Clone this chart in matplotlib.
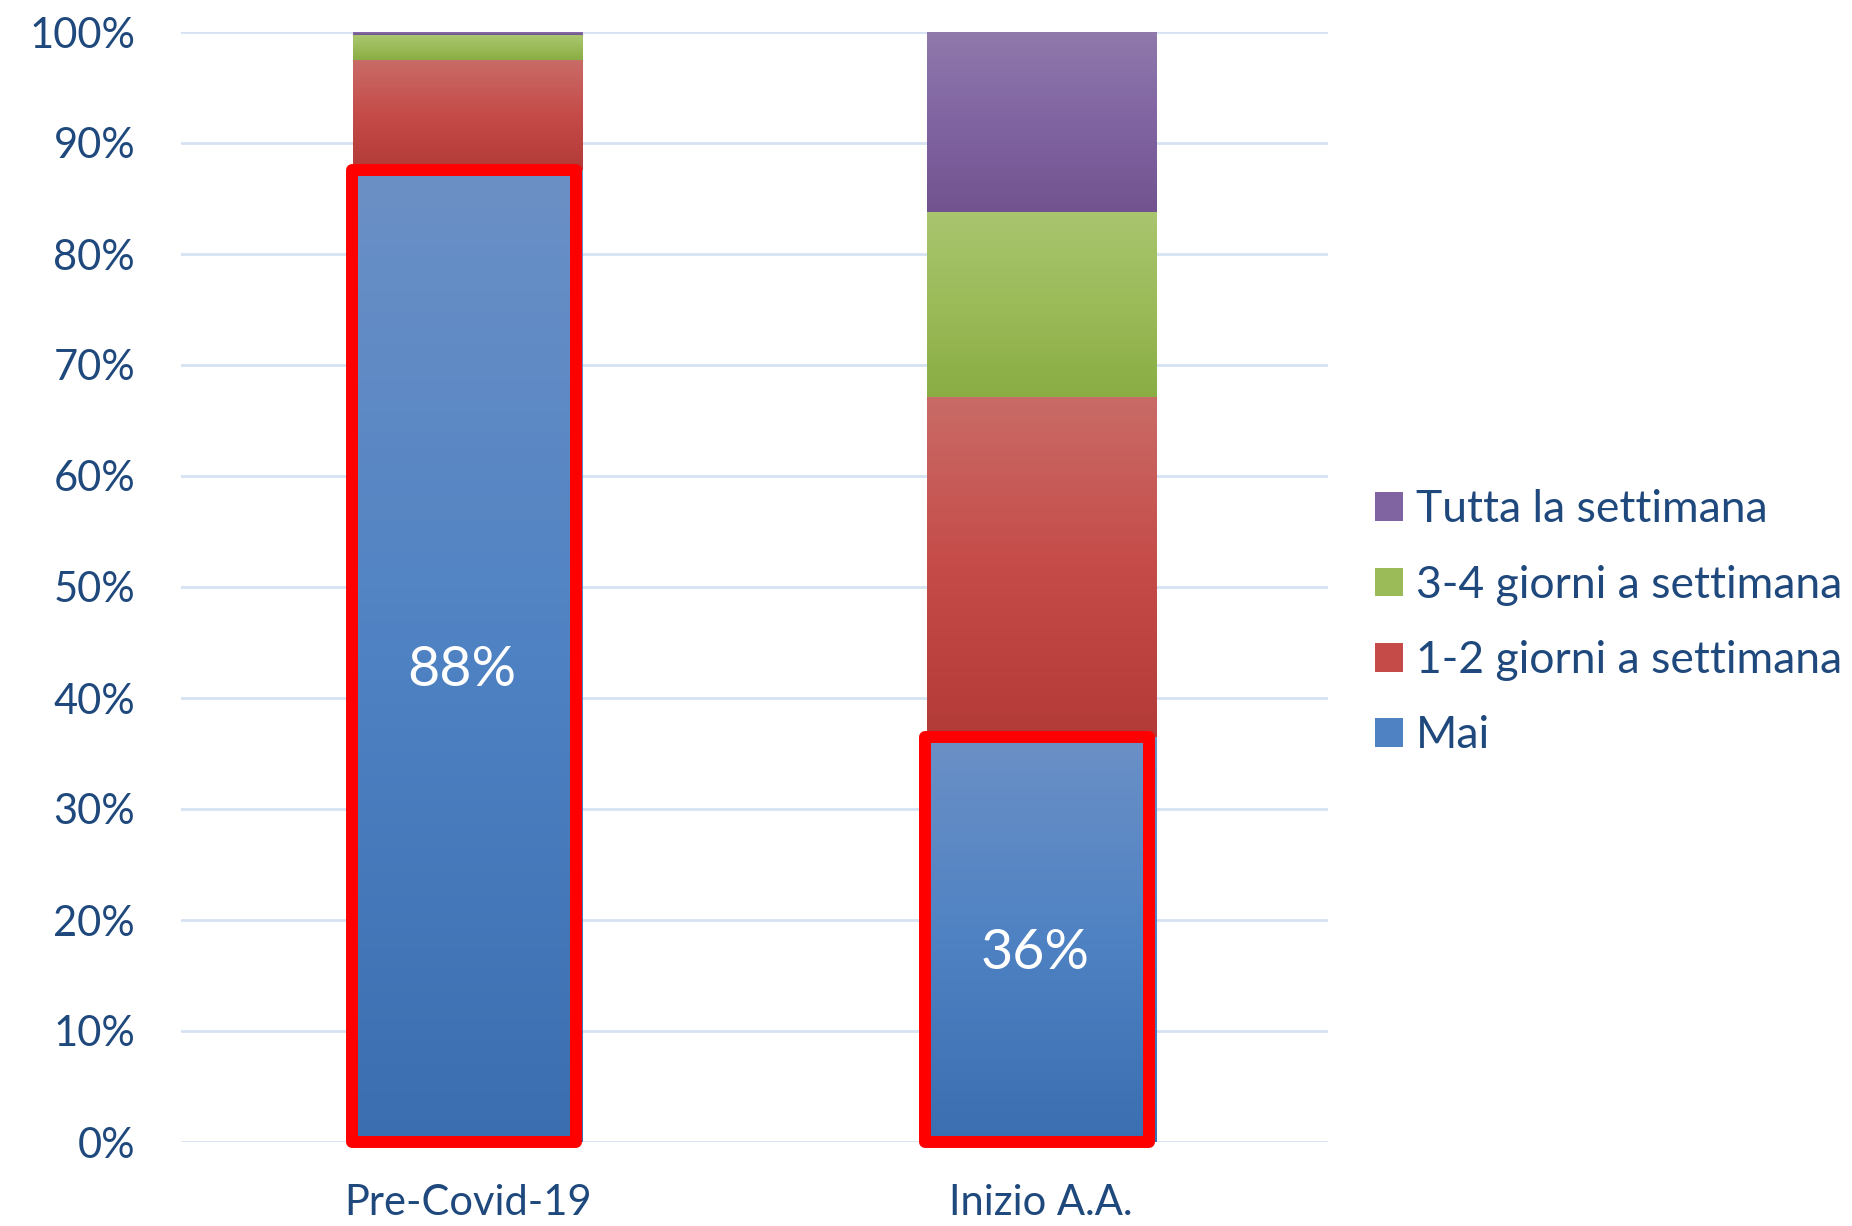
import numpy as np
import matplotlib
matplotlib.use("Agg")
import matplotlib.pyplot as plt
from matplotlib.colors import LinearSegmentedColormap
from matplotlib.patches import Patch
from matplotlib.ticker import PercentFormatter

plt.rcParams['font.family'] = ['Lato', 'DejaVu Sans']

categories = ['Pre-Covid-19', 'Inizio A.A.']
series = ['Mai', '1-2 giorni a settimana', '3-4 giorni a settimana', 'Tutta la settimana']
mai = [0.876, 0.365]
uno_due = [0.099, 0.306]
tre_quattro = [0.022, 0.167]
tutta = [0.003, 0.162]
mai_labels = ['88%', '36%']

# gradient stops bottom -> top, middle colour used for legend
grads = [
    ['#3a6eb0', '#4f82c3', '#6b90c6'],
    ['#b23a37', '#c54b48', '#c96b67'],
    ['#8aad44', '#9bbb59', '#a9c56f'],
    ['#72538f', '#8064a2', '#9079ab'],
]
text_col = '#1F497D'

fig = plt.figure(figsize=(18.52, 12.26), dpi=100)
ax = fig.add_axes([181/1852, 84/1226, (1328-181)/1852, (1142-32)/1226])

x = np.arange(len(categories))
width = 0.40
bottom = np.zeros(len(categories))
grad = np.linspace(0, 1, 256).reshape(-1, 1)
for vals, stops in zip([mai, uno_due, tre_quattro, tutta], grads):
    cmap = LinearSegmentedColormap.from_list('g', stops)
    bars = ax.bar(x, vals, width, bottom=bottom, color=stops[1], linewidth=0, zorder=2)
    for b in bars:
        bx, by = b.get_x(), b.get_y()
        im = ax.imshow(grad, cmap=cmap, origin='lower', aspect='auto',
                       extent=(bx, bx + b.get_width(), by, by + b.get_height()),
                       zorder=3, interpolation='bilinear')
        im.set_clip_path(b)
    bottom += np.array(vals)

# red highlight boxes around "Mai" (hand-drawn in the original, slightly off-centre)
ax.bar(x - 0.007, mai, 0.39, fill=False, edgecolor='#FF0000', linewidth=8.6,
       joinstyle='round', zorder=5, clip_on=False)

for xi, v, lab in zip(x, mai, mai_labels):
    ax.text(xi - 0.01, v / 2 - 0.013, lab, ha='center', va='center', color='white',
            fontsize=40, zorder=6)

ax.set_xlim(-0.5, 1.5)
ax.set_ylim(0, 1)
ax.yaxis.set_major_locator(plt.MultipleLocator(0.1))
ax.yaxis.set_major_formatter(PercentFormatter(1.0, decimals=0))
ax.grid(axis='y', color='#d6e2f3', linewidth=2.0, zorder=0)
ax.set_axisbelow(True)
for s in ax.spines.values():
    s.set_visible(False)
ax.set_xticks(x)
ax.set_xticklabels(categories)
ax.tick_params(axis='y', length=0, pad=33, labelsize=30, labelcolor=text_col)
ax.tick_params(axis='x', length=0, pad=30, labelsize=30, labelcolor=text_col)

handles = [Patch(facecolor=g[1], edgecolor='none') for g in grads][::-1]
fig.legend(handles, series[::-1], loc='center left', bbox_to_anchor=(1375/1852, 0.492),
           frameon=False, fontsize=32, labelcolor=text_col, handlelength=0.62,
           handleheight=0.62, handletextpad=0.3, labelspacing=0.77,
           borderpad=0, borderaxespad=0)

fig.savefig('out.png', dpi=100)
